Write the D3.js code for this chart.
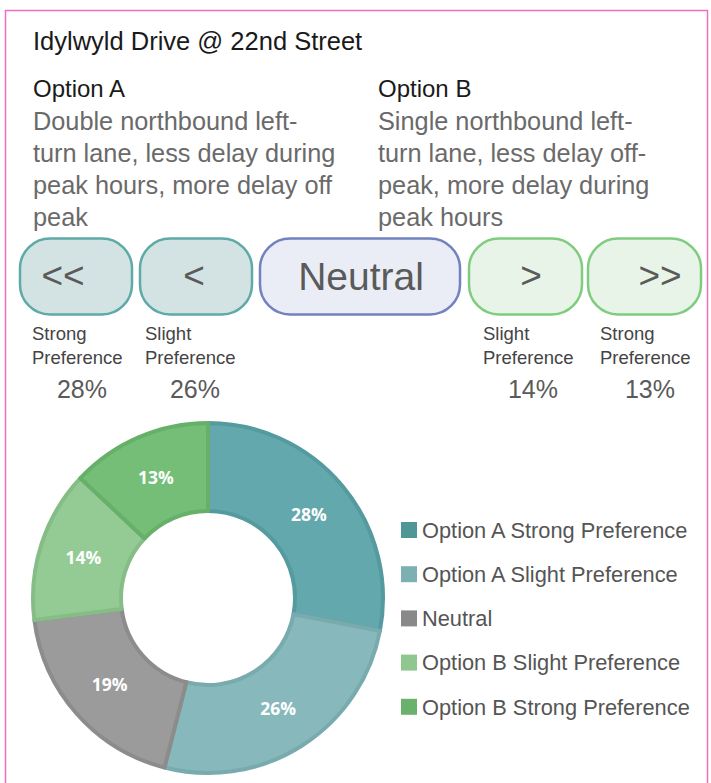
<!DOCTYPE html>
<html>
<head>
<meta charset="utf-8">
<script src="https://cdn.jsdelivr.net/npm/d3@7/dist/d3.min.js"></script>
<style>
  html, body { margin: 0; padding: 0; background: #fff; }
  svg { display: block; }
</style>
</head>
<body>
<svg id="chart" width="711" height="783"></svg>
<script>
// ---- Data ----
const title = "Idylwyld Drive @ 22nd Street";
const optionTitles = ["Option A", "Option B"];
const optionDescA = ["Double northbound left-", "turn lane, less delay during", "peak hours, more delay off", "peak"];
const optionDescB = ["Single northbound left-", "turn lane, less delay off-", "peak, more delay during", "peak hours"];
const categories = ["Option A Strong Preference", "Option A Slight Preference", "Neutral", "Option B Slight Preference", "Option B Strong Preference"];
const values = [28, 26, 19, 14, 13];
const buttonSymbols = ["<<", "<", "Neutral", ">", ">>"];
const buttonLabels = [["Strong", "Preference"], ["Slight", "Preference"], null, ["Slight", "Preference"], ["Strong", "Preference"]];
const sliceColors = ["#63a8ac", "#87b9bc", "#9b9b9b", "#94cb94", "#74be78"];
const sliceStroke = ["#559a9e", "#79abae", "#8c8c8c", "#86bd86", "#66b06a"];
const legendColors = ["#4f9797", "#7db1b1", "#898989", "#90c790", "#6ab16d"];

const svg = d3.select("#chart");
const FONT = "'Liberation Sans', Arial, sans-serif";

// Border
svg.append("rect").attr("x", 5.5).attr("y", 10.5).attr("width", 702).attr("height", 790)
  .attr("fill", "#fff").attr("stroke", "#f26bc4").attr("stroke-width", 1.5);

// Title
svg.append("text").attr("x", 33).attr("y", 50).text(title)
  .attr("font-family", FONT).attr("font-size", 25.5).attr("fill", "#1a1a1a");

// Option headings and descriptions
const optX = [33, 378];
const descs = [optionDescA, optionDescB];
optionTitles.forEach((t, i) => {
  svg.append("text").attr("x", optX[i]).attr("y", 97).text(t)
    .attr("font-family", FONT).attr("font-size", 24).attr("fill", "#1a1a1a");
  descs[i].forEach((line, j) => {
    svg.append("text").attr("x", optX[i]).attr("y", 130 + j * 32).text(line)
      .attr("font-family", FONT).attr("font-size", 25.3).attr("fill", "#6a6a6a");
  });
});

// Buttons
const btnX = [20, 140, 260, 469, 588];
const btnW = [112, 112, 200, 113, 113];
const symX = [63, 194, 361, 531, 660];
const btnFill = ["#d3e3e3", "#d3e3e3", "#ebedf6", "#e7f4e7", "#e7f4e7"];
const btnStroke = ["#5eaaa6", "#5eaaa6", "#7282c0", "#7fcc7f", "#7fcc7f"];
buttonSymbols.forEach((s, i) => {
  const g = svg.append("g");
  g.append("rect").attr("x", btnX[i]).attr("y", 238.5).attr("width", btnW[i]).attr("height", 76)
    .attr("rx", 30).attr("ry", 30)
    .attr("fill", btnFill[i]).attr("stroke", btnStroke[i]).attr("stroke-width", 2.5);
  g.append("text").attr("x", symX[i]).attr("y", i === 2 ? 290 : 288)
    .attr("text-anchor", "middle").text(s)
    .attr("font-family", FONT).attr("font-size", i === 2 ? 39 : 37).attr("fill", "#5a5a5a");
});

// Labels and percents under buttons
const lblX = [32, 145, null, 483, 600];
buttonLabels.forEach((lbl, i) => {
  if (!lbl) return;
  lbl.forEach((l, j) => {
    svg.append("text").attr("x", lblX[i]).attr("y", 340 + j * 23.5).text(l)
      .attr("font-family", FONT).attr("font-size", 18.5).attr("fill", "#444");
  });
  svg.append("text").attr("x", lblX[i] + 50).attr("y", 398).attr("text-anchor", "middle")
    .text(values[i] + "%")
    .attr("font-family", FONT).attr("font-size", 25).attr("fill", "#5a5a5a");
});

// Donut
const cx = 208, cy = 598, rOuter = 175, rInner = 87;
const pie = d3.pie().sort(null).value(d => d)(values);
const arc = d3.arc().innerRadius(rInner).outerRadius(rOuter);
const labelArc = d3.arc().innerRadius(rInner).outerRadius(rOuter);
const dg = svg.append("g").attr("transform", `translate(${cx},${cy})`);
dg.selectAll("path.slice").data(pie).enter().append("path")
  .attr("class", "slice")
  .attr("d", arc)
  .attr("fill", (d, i) => sliceColors[i])
  .attr("stroke", (d, i) => sliceStroke[i])
  .attr("stroke-width", 4)
  .attr("stroke-linejoin", "round");
dg.selectAll("text.val").data(pie).enter().append("text")
  .attr("class", "val")
  .attr("transform", d => `translate(${labelArc.centroid(d)})`)
  .attr("text-anchor", "middle").attr("dy", "0.36em")
  .text(d => d.data + "%")
  .attr("font-family", "'Open Sans', sans-serif").attr("font-weight", "bold")
  .attr("font-size", 17.5).attr("fill", "#fff");

// Legend
const lg = svg.append("g");
categories.forEach((c, i) => {
  const y = 530 + i * 44.2;
  lg.append("rect").attr("x", 401).attr("y", y - 8).attr("width", 16).attr("height", 16)
    .attr("fill", legendColors[i]);
  lg.append("text").attr("x", 422).attr("y", y).attr("dy", "0.36em").text(c)
    .attr("font-family", FONT).attr("font-size", 21.8).attr("fill", "#555");
});
</script>
</body>
</html>
